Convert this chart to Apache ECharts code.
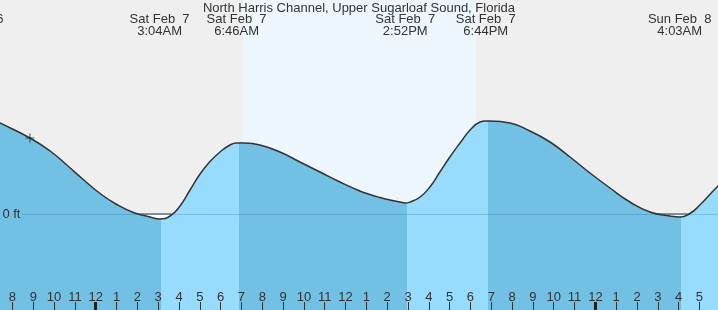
<!DOCTYPE html>
<html><head><meta charset="utf-8">
<script src="https://cdn.jsdelivr.net/npm/echarts@6/dist/echarts.min.js"></script>
<style>html,body{margin:0;padding:0;background:#efefef}#c{width:718px;height:310px}</style>
</head><body><div id="c"></div>
<script>
// ---- data (hours measured from midnight, Sat Feb 7) ----
const chartTitle = 'North Harris Channel, Upper Sugarloaf Sound, Florida';
const tideHours = [-6.0, -5.0, -4.60, -3.16, -2.19, -1.39, -0.60, 0.21, 1.01, 1.81, 2.61, 3.07, 3.57, 4.05, 4.53, 5.01, 5.49, 5.97, 6.45, 6.77, 7.20, 7.89, 8.85, 9.81, 10.77, 11.73, 12.69, 13.17, 13.66, 14.14, 14.62, 14.87, 15.10, 15.58, 16.05, 16.53, 17.01, 17.50, 17.98, 18.46, 18.73, 18.94, 19.90, 20.86, 21.82, 22.78, 23.74, 24.70, 25.66, 26.62, 27.58, 28.05, 28.54, 29.02, 29.89, 30.30];
const tideFeet  = [0.99, 0.95, 0.91, 0.76, 0.63, 0.49, 0.345, 0.205, 0.095, 0.015, -0.03, -0.05, -0.02, 0.08, 0.24, 0.40, 0.525, 0.62, 0.69, 0.71, 0.71, 0.69, 0.62, 0.52, 0.42, 0.32, 0.23, 0.195, 0.165, 0.14, 0.12, 0.11, 0.12, 0.17, 0.27, 0.42, 0.57, 0.71, 0.84, 0.92, 0.93, 0.93, 0.91, 0.83, 0.72, 0.57, 0.41, 0.26, 0.12, 0.02, -0.02, -0.03, 0.005, 0.09, 0.28, 0.35];
const extremeHours  = [-5.77, 3.067, 6.767, 14.867, 18.733, 28.05];
const extremeLabels = ['Fri Feb  6\n6:14PM', 'Sat Feb  7\n3:04AM', 'Sat Feb  7\n6:46AM', 'Sat Feb  7\n2:52PM', 'Sat Feb  7\n6:44PM', 'Sun Feb  8\n4:03AM'];
const risingBands = [[3.14, 6.88], [14.94, 18.83], [28.11, 31]];
const daylight = [7.07, 18.27];
const belowZero = [[1.80, 3.62], [26.80, 28.52]];
const tickHours = [-6,-5,-4,-3,-2,-1,0,1,2,3,4,5,6,7,8,9,10,11,12,13,14,15,16,17,18,19,20,21,22,23,24,25,26,27,28,29];
const midnightHours = [0, 24];
const nowPoint = [-3.16, 0.76];
const zeroLineStart = -3.55;

// ---- style ----
const FONT = 'Liberation Sans';
const TXT = '#333';
const DARK = '#72c0e4', LIGHT = '#97dcfc';
const xMin = -6.5, xMax = 30;
const SMOOTH = 0.5;

const tide = tideHours.map((h, i) => [h, tideFeet[i]]);

const pieces = [{ lt: risingBands[0][0], color: DARK }];
risingBands.forEach(([a, b], i) => {
  pieces.push({ gte: a, lt: b, color: LIGHT });
  const next = i + 1 < risingBands.length ? risingBands[i + 1][0] : null;
  if (next !== null) pieces.push({ gte: b, lt: next, color: DARK });
  else pieces.push({ gte: b, color: DARK });
});

const series = [];
series.push({
  type: 'line', data: [[daylight[0], 0], [daylight[1], 0]], symbol: 'none',
  lineStyle: { width: 0 }, z: 1, silent: true,
  markArea: { silent: true, itemStyle: { color: '#eef6fd' },
    data: [[{ xAxis: daylight[0] }, { xAxis: daylight[1] }]] }
});
belowZero.forEach(([a, b]) => {
  series.push({
    type: 'line', data: [[a, 0], [b, 0]], symbol: 'none', z: 2, silent: true,
    lineStyle: { color: '#333', width: 1.2 },
    areaStyle: { color: '#ffffff', opacity: 1, origin: 'start' }
  });
});
const fillIdx = series.length;
series.push({
  type: 'line', data: tide, smooth: SMOOTH, symbol: 'none', z: 3, silent: true,
  lineStyle: { width: 0 },
  areaStyle: { opacity: 1, origin: 'start' }
});
series.push({
  type: 'line', data: tide, smooth: SMOOTH, symbol: 'none', z: 4, silent: true,
  lineStyle: { color: '#333', width: 1.5 },
  markLine: { silent: true, symbol: 'none', label: { show: false },
    lineStyle: { color: 'rgba(0,70,130,0.2)', width: 1, type: 'solid' },
    data: [[{ coord: [zeroLineStart, 0] }, { coord: [xMax, 0] }]] }
});
series.push({
  type: 'scatter', data: [nowPoint], z: 5, silent: true,
  symbol: 'path://M0,4h9v1h-9z M4,0h1v9h-1z', symbolSize: 9,
  itemStyle: { color: '#222' }
});

const chart = echarts.init(document.getElementById('c'), null, { renderer: 'canvas' });
chart.setOption({
  animation: false,
  backgroundColor: '#efefef',
  title: { text: chartTitle, left: 'center', top: 2, padding: 0, z: 20,
    textStyle: { fontFamily: FONT, fontSize: 13, fontWeight: 'normal', color: TXT } },
  grid: { left: -39.6, right: -2.3, top: 0, bottom: 0, containLabel: false, outerBoundsMode: 'none' },
  visualMap: { type: 'piecewise', show: false, dimension: 0, seriesIndex: fillIdx, pieces: pieces },
  xAxis: [
    { type: 'value', position: 'bottom', min: xMin, max: xMax, z: 10,
      axisLine: { show: false, onZero: false }, splitLine: { show: false },
      axisTick: { show: true, inside: true, length: 8, customValues: tickHours, lineStyle: { color: '#333', width: 1 } },
      axisLabel: { inside: true, margin: 6, customValues: tickHours, fontFamily: FONT, fontSize: 13, color: TXT,
        formatter: v => { const h = ((Math.round(v) % 12) + 12) % 12; return h === 0 ? '12' : String(h); } } },
    { type: 'value', position: 'bottom', min: xMin, max: xMax, z: 10,
      axisLine: { show: false, onZero: false }, splitLine: { show: false }, axisLabel: { show: false },
      axisTick: { show: true, inside: true, length: 8, customValues: midnightHours, lineStyle: { color: '#222', width: 3 } } },
    { type: 'value', position: 'top', min: xMin, max: xMax, z: 10,
      axisLine: { show: false, onZero: false }, splitLine: { show: false }, axisTick: { show: false },
      axisLabel: { inside: true, margin: 13, customValues: extremeHours, fontFamily: FONT, fontSize: 13, color: TXT, lineHeight: 12,
        formatter: v => { const i = extremeHours.findIndex(e => Math.abs(e - v) < 1e-6); return i >= 0 ? extremeLabels[i] : ''; } } }
  ],
  yAxis: { type: 'value', min: -0.96, max: 2.14, z: 10,
    axisLine: { show: false, onZero: false }, splitLine: { show: false }, axisTick: { show: false },
    axisLabel: { inside: true, margin: 42, customValues: [0], fontFamily: FONT, fontSize: 13, color: TXT,
      formatter: v => v + ' ft' } },
  series: series
});
</script></body></html>
